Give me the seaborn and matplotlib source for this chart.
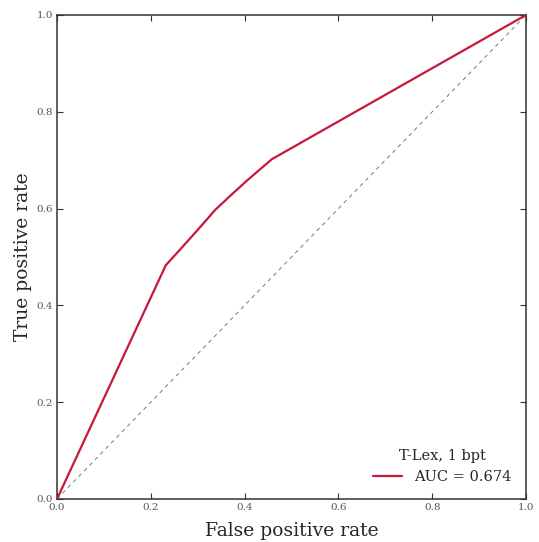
import matplotlib
matplotlib.use("Agg")
import matplotlib.pyplot as plt
import seaborn as sns
import pandas as pd

# ROC operating points
fpr = [0.0, 0.232, 0.262, 0.300, 0.337, 0.370, 0.404, 0.458, 1.0]
tpr = [0.0, 0.483, 0.515, 0.556, 0.597, 0.627, 0.657, 0.702, 1.0]
chance = [0.0, 1.0]
ticks = [0.0, 0.2, 0.4, 0.6, 0.8, 1.0]
tick_labels = ["0.0", "0.2", "0.4", "0.6", "0.8", "1.0"]
legend_title = "T-Lex, 1 bpt"
auc_label = "AUC = 0.674"

sns.set_style("ticks")
plt.rcParams["font.family"] = ["DejaVu Serif"]
plt.rcParams["mathtext.fontset"] = "dejavuserif"

fig = plt.figure(figsize=(5.39, 5.42), dpi=100)
ax = fig.add_axes([57 / 539, 1 - 499 / 542, 469 / 539, 484 / 542])

df = pd.DataFrame({"fpr": fpr, "tpr": tpr})
sns.lineplot(data=df, x="fpr", y="tpr", sort=False, color="#C8173A",
             linewidth=1.6, ax=ax, label=auc_label, zorder=3)
sns.lineplot(x=chance, y=chance, color="#777777", linestyle=(0, (4, 4)),
             linewidth=0.7, ax=ax, zorder=2)

ax.set_xlim(0, 1)
ax.set_ylim(0, 1)
ax.set_xticks(ticks)
ax.set_yticks(ticks)
ax.set_xticklabels(tick_labels)
ax.set_yticklabels(tick_labels)
ax.tick_params(direction="in", top=True, right=True, length=4, width=0.8,
               labelsize=7.5, labelcolor="#555555", color="#333333", pad=3)
for s in ax.spines.values():
    s.set_color("#333333")
    s.set_linewidth(1.1)

ax.set_xlabel("False positive rate", fontsize=13.5, labelpad=7)
ax.set_ylabel("True positive rate", fontsize=13.5, labelpad=3)

leg = ax.legend(title=legend_title, loc="lower right", frameon=False,
                fontsize=10.5, title_fontsize=10.5, handlelength=2.0,
                borderaxespad=0.6)
leg.get_lines()[0].set_linewidth(1.6)

fig.savefig("out.png", dpi=100)
